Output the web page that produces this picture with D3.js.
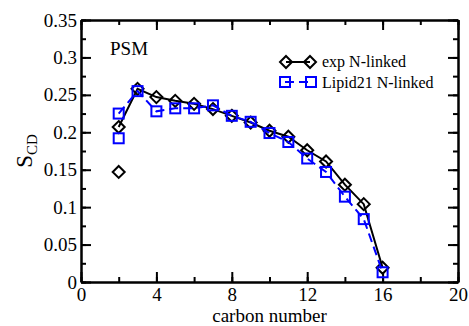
<!DOCTYPE html>
<html>
<head>
<meta charset="utf-8">
<script src="https://cdn.jsdelivr.net/npm/d3@7"></script>
<style>
  body { margin: 0; background: #fff; }
  svg { display: block; }
  text { font-family: "Liberation Serif", "Times New Roman", serif; }
</style>
</head>
<body>
<main></main>
<script>
// carbon positions
const carbons = [2, 3, 4, 5, 6, 7, 8, 9, 10, 11, 12, 13, 14, 15, 16];
// experiment, first hydrogen of C2 joins the line
const expVals = [0.207, 0.258, 0.247, 0.242, 0.238, 0.231, 0.222, 0.213, 0.202, 0.194, 0.176, 0.161, 0.130, 0.104, 0.019];
const expExtra = [{c: 2, v: 0.147}];
// Lipid21 simulation
const lipidVals = [0.225, 0.255, 0.228, 0.232, 0.232, 0.236, 0.222, 0.214, 0.199, 0.187, 0.165, 0.147, 0.114, 0.084, 0.013];
const lipidExtra = [{c: 2, v: 0.192}];

const xMajor = [0, 4, 8, 12, 16, 20];
const yMajor = [0, 0.05, 0.1, 0.15, 0.2, 0.25, 0.3, 0.35];

let drawChart = (w = 469, h = 326) => {
	const margin = ({top: 20, right: 11, bottom: 44, left: 81});

	const x = d3.scaleLinear().domain([0, 20]).range([margin.left, w - margin.right]);
	const y = d3.scaleLinear().domain([0, 0.35]).range([h - margin.bottom, margin.top]);

	const svg = d3.select("main").append("svg")
		.attr("width", w)
		.attr("height", h);

	const minorX = d3.range(0, 21, 2);
	const minorY = d3.range(0, 0.3501, 0.025);

	let styleAxis = g => {
		g.attr("font-family", '"Liberation Serif", serif').attr("font-size", 19);
		g.select(".domain").attr("stroke-width", 2);
		g.selectAll(".tick line").attr("stroke-width", 2);
		g.selectAll("text").attr("fill", "#000");
	};

	// bottom
	svg.append("g")
		.attr("transform", `translate(0,${y(0)})`)
		.call(d3.axisBottom(x).tickValues(minorX).tickSize(-5).tickFormat("").tickSizeOuter(0))
		.call(styleAxis);
	svg.append("g")
		.attr("transform", `translate(0,${y(0)})`)
		.call(d3.axisBottom(x).tickValues(xMajor).tickSize(-10).tickPadding(6).tickSizeOuter(0))
		.call(styleAxis);
	// top
	svg.append("g")
		.attr("transform", `translate(0,${y(0.35)})`)
		.call(d3.axisTop(x).tickValues(minorX).tickSize(-5).tickFormat("").tickSizeOuter(0))
		.call(styleAxis);
	svg.append("g")
		.attr("transform", `translate(0,${y(0.35)})`)
		.call(d3.axisTop(x).tickValues(xMajor).tickSize(-10).tickFormat("").tickSizeOuter(0))
		.call(styleAxis);
	// left
	svg.append("g")
		.attr("transform", `translate(${x(0)},0)`)
		.call(d3.axisLeft(y).tickValues(minorY).tickSize(-5).tickFormat("").tickSizeOuter(0))
		.call(styleAxis);
	svg.append("g")
		.attr("transform", `translate(${x(0)},0)`)
		.call(d3.axisLeft(y).tickValues(yMajor).tickSize(-10).tickPadding(4).tickSizeOuter(0)
			.tickFormat(d => d === 0 ? "0" : String(+d.toFixed(2))))
		.call(styleAxis);
	// right
	svg.append("g")
		.attr("transform", `translate(${x(20)},0)`)
		.call(d3.axisRight(y).tickValues(minorY).tickSize(-5).tickFormat("").tickSizeOuter(0))
		.call(styleAxis);
	svg.append("g")
		.attr("transform", `translate(${x(20)},0)`)
		.call(d3.axisRight(y).tickValues(yMajor).tickSize(-10).tickFormat("").tickSizeOuter(0))
		.call(styleAxis);

	// axis titles
	svg.append("text")
		.attr("x", (x(0) + x(20)) / 2)
		.attr("y", 322)
		.attr("text-anchor", "middle")
		.attr("font-size", 19)
		.text("carbon number");

	const yl = svg.append("text")
		.attr("transform", `translate(32,${(y(0) + y(0.35)) / 2}) rotate(-90)`)
		.attr("text-anchor", "middle")
		.attr("font-size", 23);
	yl.append("tspan").text("S");
	yl.append("tspan").attr("font-size", 15).attr("dy", 5).text("CD");

	svg.append("text")
		.attr("x", 110)
		.attr("y", 55)
		.attr("font-size", 19)
		.text("PSM");

	const line = d3.line().x(d => x(d.c)).y(d => y(d.v));
	const expData = carbons.map((c, i) => ({c, v: expVals[i]}));
	const lipidData = carbons.map((c, i) => ({c, v: lipidVals[i]}));

	const diamond = (g, cx, cy) => g.append("path")
		.attr("d", `M${cx},${cy - 6}L${cx + 6},${cy}L${cx},${cy + 6}L${cx - 6},${cy}Z`)
		.attr("fill", "none").attr("stroke", "#000").attr("stroke-width", 2);
	const square = (g, cx, cy) => g.append("rect")
		.attr("x", cx - 5).attr("y", cy - 5).attr("width", 10).attr("height", 10)
		.attr("fill", "none").attr("stroke", "#0000ff").attr("stroke-width", 2);

	// exp series
	svg.append("path").datum(expData)
		.attr("d", line).attr("fill", "none").attr("stroke", "#000").attr("stroke-width", 2);
	const gExp = svg.append("g");
	expData.concat(expExtra).forEach(d => diamond(gExp, x(d.c), y(d.v)));

	// Lipid21 series
	svg.append("path").datum(lipidData)
		.attr("d", line).attr("fill", "none").attr("stroke", "#0000ff").attr("stroke-width", 2)
		.attr("stroke-dasharray", "9,5");
	const gLip = svg.append("g");
	lipidData.concat(lipidExtra).forEach(d => square(gLip, x(d.c), y(d.v)));

	// legend
	const lg = svg.append("g");
	lg.append("line").attr("x1", 286).attr("x2", 310).attr("y1", 62).attr("y2", 62)
		.attr("stroke", "#000").attr("stroke-width", 2);
	diamond(lg, 286, 62);
	diamond(lg, 310, 62);
	lg.append("text").attr("x", 322).attr("y", 67).attr("font-size", 16).text("exp N-linked");

	lg.append("line").attr("x1", 285).attr("x2", 311).attr("y1", 82).attr("y2", 82)
		.attr("stroke", "#0000ff").attr("stroke-width", 2).attr("stroke-dasharray", "9,5");
	square(lg, 285, 82);
	square(lg, 311, 82);
	lg.append("text").attr("x", 322).attr("y", 88).attr("font-size", 16).text("Lipid21 N-linked");
};

drawChart();
</script>
</body>
</html>
